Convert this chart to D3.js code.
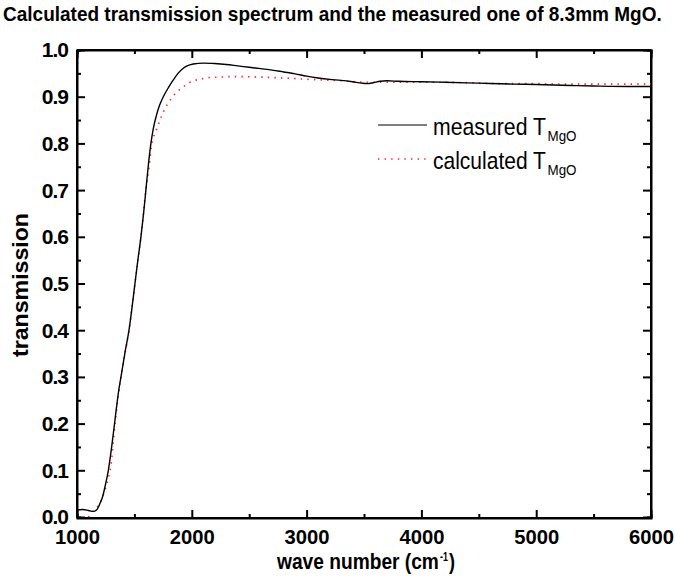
<!DOCTYPE html>
<html><head><meta charset="utf-8">
<script src="https://cdn.jsdelivr.net/npm/d3@7"></script>
<style>body{margin:0;background:#fff;}svg{display:block;}</style>
</head><body>
<script>
const titleText = "Calculated transmission spectrum and the measured one of 8.3mm MgO.";
const xTicks = [1000, 2000, 3000, 4000, 5000, 6000];
const yTicks = [0.0, 0.1, 0.2, 0.3, 0.4, 0.5, 0.6, 0.7, 0.8, 0.9, 1.0];
const measuredX = [1000,1050,1100,1140,1170,1200,1225,1244,1273,1302,1331,1360,1390,1420,1453,1480,1505,1530,1557,1580,1600,1620,1640,1665,1694,1720,1752,1800,1839,1880,1926,1970,2013,2100,2200,2300,2400,2500,2600,2700,2800,2900,3000,3100,3200,3300,3400,3480,3530,3580,3640,3700,3800,4000,4200,4500,4800,5000,5300,5500,5800,6000];
const measuredY = [0.015,0.016,0.014,0.012,0.015,0.029,0.045,0.065,0.10,0.15,0.208,0.265,0.31,0.355,0.40,0.45,0.50,0.55,0.60,0.65,0.70,0.75,0.793,0.832,0.862,0.882,0.900,0.921,0.936,0.950,0.961,0.967,0.970,0.972,0.971,0.969,0.966,0.963,0.960,0.957,0.953,0.949,0.944,0.940,0.937,0.935,0.932,0.929,0.928,0.930,0.933,0.934,0.933,0.932,0.931,0.929,0.927,0.926,0.924,0.923,0.922,0.922];
const calcX = [1100,1142,1200,1244,1273,1296,1331,1360,1390,1453,1505,1557,1600,1628,1650,1690,1723,1770,1825,1870,1926,1980,2042,2100,2159,2250,2333,2450,2594,2800,3030,3300,3523,3800,4104,4400,4685,5000,5265,5600,6000];
const calcY = [0.0,0.013,0.03,0.058,0.083,0.111,0.20,0.26,0.31,0.40,0.50,0.60,0.70,0.75,0.795,0.828,0.850,0.876,0.897,0.910,0.921,0.930,0.936,0.939,0.941,0.942,0.943,0.943,0.942,0.940,0.937,0.934,0.931,0.931,0.931,0.930,0.928,0.928,0.927,0.927,0.927];
const legendLabels = ["measured T", "calculated T"];
const legendSub = "MgO";

const W = 675, H = 578;
const m = {left: 77, right: 651, top: 50, bottom: 517};
const svg = d3.select("body").append("svg").attr("width", W).attr("height", H);
const x = d3.scaleLinear().domain([1000, 6000]).range([m.left, m.right]);
const y = d3.scaleLinear().domain([0, 1]).range([m.bottom, m.top]);
const font = "'Liberation Sans', Arial, sans-serif";

// place a text condensed horizontally to a target width
function fitText(parent, str, px, py, width, size, weight) {
  const t = parent.append("text").attr("font-family", font).attr("font-size", size)
    .attr("font-weight", weight).attr("fill", "#000").text(str);
  const w = t.node().getComputedTextLength();
  t.attr("transform", `translate(${px},${py}) scale(${width / w},1)`);
  return px + width;
}

// title
fitText(svg, titleText, 3, 21, 659, 20, "bold");

// axes
const minorX = d3.range(1500, 6000, 1000);
const minorY = d3.range(0.05, 1, 0.1);
const gB = svg.append("g").attr("transform", `translate(0,${m.bottom + 1})`)
  .call(d3.axisBottom(x).tickValues(xTicks).tickSize(-8).tickPadding(12).tickFormat(d3.format("d")));
const gBm = svg.append("g").attr("transform", `translate(0,${m.bottom + 1})`)
  .call(d3.axisBottom(x).tickValues(minorX).tickSize(-4).tickFormat(""));
const gT = svg.append("g").attr("transform", `translate(0,${m.top})`)
  .call(d3.axisTop(x).tickValues(xTicks).tickSize(-8).tickFormat(""));
const gTm = svg.append("g").attr("transform", `translate(0,${m.top})`)
  .call(d3.axisTop(x).tickValues(minorX).tickSize(-4).tickFormat(""));
const gL = svg.append("g").attr("transform", `translate(${m.left},0)`)
  .call(d3.axisLeft(y).tickValues(yTicks).tickSize(-8).tickPadding(9).tickFormat(d3.format(".1f")));
const gLm = svg.append("g").attr("transform", `translate(${m.left},0)`)
  .call(d3.axisLeft(y).tickValues(minorY).tickSize(-4).tickFormat(""));
const gR = svg.append("g").attr("transform", `translate(${m.right},0)`)
  .call(d3.axisRight(y).tickValues(yTicks).tickSize(-8).tickFormat(""));
const gRm = svg.append("g").attr("transform", `translate(${m.right},0)`)
  .call(d3.axisRight(y).tickValues(minorY).tickSize(-4).tickFormat(""));
[gB, gBm, gT, gTm, gL, gLm, gR, gRm].forEach(g => {
  g.select(".domain").attr("stroke", "#000").attr("stroke-width", 2);
  g.selectAll(".tick line").attr("stroke", "#000").attr("stroke-width", 2);
  g.selectAll("text").attr("font-family", font).attr("font-weight", "bold")
    .attr("font-size", 21).attr("fill", "#000");
});
gL.selectAll("text").attr("letter-spacing", -1).attr("dy", "0.33em");
gB.selectAll("text").attr("font-size", 20).attr("textLength", 45)
  .attr("lengthAdjust", "spacingAndGlyphs").attr("dy", "0.72em");
gB.selectAll(".domain").attr("d", `M${m.left},0H${m.right}`);
gT.selectAll(".domain").attr("d", `M${m.left},0H${m.right}`);
gL.selectAll(".domain").attr("d", `M0,${m.bottom + 1}V${m.top}`);
gR.selectAll(".domain").attr("d", `M0,${m.bottom + 1}V${m.top}`);

// curves
const line = d3.line().x(d => x(d[0])).y(d => y(d[1])).curve(d3.curveMonotoneX);
const meas = measuredX.map((v, i) => [v, measuredY[i]]);
const calc = calcX.map((v, i) => [v, calcY[i]]);
svg.append("path").datum(calc).attr("d", line).attr("fill", "none")
  .attr("stroke", "#ff2020").attr("stroke-width", 1.6).attr("stroke-dasharray", "1.4,5.2");
svg.append("path").datum(meas).attr("d", line).attr("fill", "none")
  .attr("stroke", "#000").attr("stroke-width", 1.4);

// axis titles
let ex = fitText(svg, "wave number (cm", 277, 569, 162, 22, "bold");
ex = fitText(svg, "-1", ex + 1, 561, 8, 12, "bold");
fitText(svg, ")", ex + 1, 569, 6, 22, "bold");
svg.append("text").attr("transform", "translate(28,357) rotate(-90)")
  .attr("font-family", font).attr("font-weight", "bold").attr("font-size", 22).attr("fill", "#000")
  .attr("textLength", 144).attr("lengthAdjust", "spacingAndGlyphs")
  .text("transmission");

// legend
const lg = svg.append("g");
const ly = [125, 159];
lg.append("line").attr("x1", 378).attr("x2", 427).attr("y1", ly[0]).attr("y2", ly[0])
  .attr("stroke", "#000").attr("stroke-width", 1.2);
lg.append("line").attr("x1", 378).attr("x2", 427).attr("y1", ly[1]).attr("y2", ly[1])
  .attr("stroke", "#ff2020").attr("stroke-width", 1.6).attr("stroke-dasharray", "1.4,5.2");
legendLabels.forEach((t, i) => {
  const e = fitText(lg, t, 433, ly[i] + 10, 113, 24, "normal");
  fitText(lg, legendSub, e + 1.5, ly[i] + 16, 29, 15, "normal");
});
</script>
</body></html>
